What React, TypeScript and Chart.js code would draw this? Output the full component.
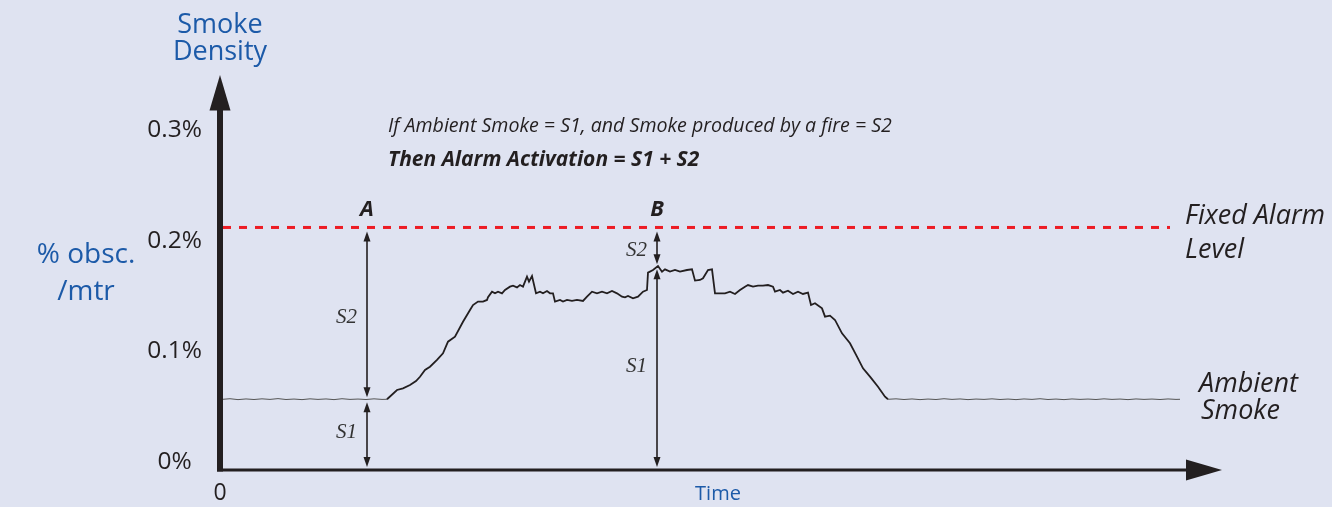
import React, { useEffect, useRef } from 'react';
import { Chart, registerables } from 'chart.js';

Chart.register(...registerables);

// ---------- data ----------
const timeValues = [
  3, 10, 18, 26, 34, 42, 50, 58, 66, 74, 82, 90, 98, 106, 114, 122, 130, 138, 146, 154, 162, 167,
  177, 183, 190, 196, 200, 205, 210, 217, 223, 228, 235, 243, 250, 253, 258, 263, 267, 268, 272, 275,
  278, 282, 285, 290, 293, 297, 300, 303, 307, 309, 312, 316, 320, 323, 327, 330, 333, 335, 340, 343,
  347, 352, 357, 363, 367, 372, 377, 382, 387, 392, 397, 402, 405, 408, 413, 418, 423, 427, 428, 433,
  438, 442, 445, 450, 455, 460, 467, 472, 475, 480, 483, 488, 492, 495, 500, 505, 510, 515, 520, 525,
  528, 533, 538, 543, 548, 553, 555, 560, 563, 568, 573, 578, 583, 588, 591, 595, 602, 605, 610, 615,
  622, 630, 637, 643, 650, 658, 665, 668,
  676, 684, 692, 700, 708, 716, 724, 732, 740, 748, 756, 764, 772, 780, 788, 796, 804, 812, 820, 828,
  836, 844, 852, 860, 868, 876, 884, 892, 900, 908, 916, 924, 932, 940, 948, 956, 960,
];
const densityValues = [
  0.0565, 0.057, 0.0562, 0.0568, 0.0563, 0.0569, 0.0564, 0.0571, 0.0563, 0.0567, 0.0562, 0.0569, 0.0564,
  0.0568, 0.0562, 0.057, 0.0564, 0.0567, 0.0563, 0.0569, 0.0564, 0.0565,
  0.0649, 0.0664, 0.0694, 0.073, 0.0769, 0.083, 0.086, 0.0921, 0.0981, 0.1086, 0.1131, 0.1267, 0.1373,
  0.1418, 0.1449, 0.1449, 0.1464, 0.1488, 0.1539, 0.1524,
  0.1539, 0.1524, 0.1554, 0.1584, 0.1593, 0.1578, 0.1599, 0.1584, 0.1675, 0.163, 0.1681, 0.1524, 0.1539,
  0.1524, 0.1545, 0.1524, 0.1524, 0.1449, 0.1464, 0.1449,
  0.1464, 0.1455, 0.1464, 0.1455, 0.1494, 0.1539, 0.1524, 0.1539, 0.1524, 0.1545, 0.1524, 0.1494, 0.1488,
  0.15, 0.1479, 0.1494, 0.1539, 0.1554, 0.1711, 0.1735,
  0.1771, 0.172, 0.1741, 0.172, 0.1735, 0.172, 0.1735, 0.1741, 0.1639, 0.1645, 0.166, 0.1735, 0.1741,
  0.1524, 0.1524, 0.1524, 0.1539, 0.1518, 0.1554, 0.1584,
  0.1599, 0.1584, 0.1593, 0.1593, 0.1599, 0.1584, 0.1539, 0.1554, 0.153, 0.1548, 0.1518, 0.1539, 0.1518,
  0.153, 0.1418, 0.1434, 0.1388, 0.1313, 0.1322, 0.1283,
  0.1162, 0.1072, 0.0951, 0.0845, 0.077, 0.0679, 0.0588, 0.0565,
  0.0569, 0.0563, 0.0568, 0.0562, 0.0567, 0.0563, 0.057, 0.0564, 0.0568, 0.0562, 0.0567, 0.0564, 0.0569,
  0.0563, 0.0567, 0.0562, 0.0568, 0.0564, 0.057, 0.0563,
  0.0567, 0.0562, 0.0568, 0.0564, 0.0567, 0.0563, 0.0569, 0.0564, 0.0567, 0.0562, 0.0568, 0.0564, 0.0567,
  0.0563, 0.0568, 0.0564, 0.0565,
];
const alarmTimes = [3, 950];
const alarmValues = [0.212, 0.212];
const ambientLevel = 0.0565;
const alarmLevel = 0.212;

const yTickValues = [0, 0.1, 0.2, 0.3];
const yTickLabels = ['0%', '0.1%', '0.2%', '0.3%'];
const xTickValues = [0];
const xTickLabels = ['0'];

const markerNames = ['A', 'B'];
const markerTimes = [147, 437];
const markerLevels = [ambientLevel, 0.177];

// ---------- styles ----------
const BG = '#dfe3f1';
const INK = '#231f20';
const BLUE = '#1c5aa8';
const RED = '#ed1c24';
const SANS = '"Open Sans", "Noto Sans", sans-serif';
const SERIF = '"Liberation Serif", "DejaVu Serif", serif';

function doubleArrow(ctx: CanvasRenderingContext2D, x: number, yTop: number, yBot: number) {
  const head = 10;
  const half = 3.5;
  ctx.strokeStyle = INK;
  ctx.fillStyle = INK;
  ctx.lineWidth = 1.6;
  ctx.beginPath();
  ctx.moveTo(x, yTop + head - 1);
  ctx.lineTo(x, yBot - head + 1);
  ctx.stroke();
  ctx.beginPath();
  ctx.moveTo(x, yTop);
  ctx.lineTo(x - half, yTop + head);
  ctx.lineTo(x + half, yTop + head);
  ctx.closePath();
  ctx.fill();
  ctx.beginPath();
  ctx.moveTo(x, yBot);
  ctx.lineTo(x - half, yBot - head);
  ctx.lineTo(x + half, yBot - head);
  ctx.closePath();
  ctx.fill();
}

const annotatePlugin = {
  id: 'annotate',
  beforeDraw(chart: any) {
    const { ctx, width, height } = chart;
    ctx.save();
    ctx.fillStyle = BG;
    ctx.fillRect(0, 0, width, height);
    ctx.restore();
  },
  afterDatasetsDraw(chart: any) {
    const { ctx, chartArea, scales } = chart;
    const xs = scales.x;
    const ys = scales.y;
    const ox = xs.getPixelForValue(0);
    const oy = chartArea.bottom;
    ctx.save();

    // axes
    ctx.fillStyle = INK;
    ctx.fillRect(ox - 3, chartArea.top, 6, oy - chartArea.top + 1.5);
    ctx.fillRect(ox - 3, oy - 1.5, chartArea.right - ox, 3);
    ctx.beginPath();
    ctx.moveTo(ox - 10.5, chartArea.top + 0.5);
    ctx.lineTo(ox, chartArea.top - 35);
    ctx.lineTo(ox + 10.5, chartArea.top + 0.5);
    ctx.closePath();
    ctx.fill();
    const xb = chartArea.right - 30;
    ctx.beginPath();
    ctx.moveTo(xb, oy - 10.5);
    ctx.lineTo(chartArea.right + 6, oy);
    ctx.lineTo(xb, oy + 10.5);
    ctx.closePath();
    ctx.fill();

    // measurement arrows
    const alarmPx = ys.getPixelForValue(alarmLevel);
    const zeroPx = oy;
    markerNames.forEach((name, i) => {
      const mx = xs.getPixelForValue(markerTimes[i]);
      const lv = ys.getPixelForValue(markerLevels[i]);
      doubleArrow(ctx, mx, alarmPx + 4, lv - 2);
      doubleArrow(ctx, mx, lv + 3, zeroPx - 3);
      ctx.fillStyle = INK;
      ctx.font = `italic bold 22px ${SANS}`;
      ctx.textAlign = 'center';
      ctx.textBaseline = 'middle';
      ctx.fillText(name, mx, alarmPx - 18);
      ctx.font = `italic 21px ${SERIF}`;
      ctx.fillStyle = '#333';
      ctx.textAlign = 'right';
      ctx.fillText('S2', mx - 10, (alarmPx + lv) / 2 + 4);
      ctx.fillText('S1', mx - 10, (lv + zeroPx) / 2 - 2);
    });

    // texts
    ctx.textBaseline = 'middle';
    ctx.fillStyle = BLUE;
    ctx.textAlign = 'center';
    ctx.font = `27px ${SANS}`;
    ctx.fillText('Smoke', ox, 25);
    ctx.fillText('Density', ox, 52);
    ctx.font = `28px ${SANS}`;
    ctx.fillText('% obsc.', 86, 255);
    ctx.fillText('/mtr', 86, 292);

    ctx.fillStyle = INK;
    ctx.textAlign = 'left';
    ctx.font = `italic 19.6px ${SANS}`;
    ctx.fillText('If Ambient Smoke = S1, and Smoke produced by a fire = S2', 388, 126);
    ctx.font = `italic bold 21px ${SANS}`;
    ctx.fillText('Then Alarm Activation = S1 + S2', 388, 160);

    ctx.font = `italic 27px ${SANS}`;
    ctx.fillText('Fixed Alarm', 1185, 216);
    ctx.fillText('Level', 1185, 250);
    ctx.fillText('Ambient', 1199, 384);
    ctx.fillText('Smoke', 1201, 411);
    ctx.restore();
  },
};

export default function App() {
  const ref = useRef<HTMLCanvasElement | null>(null);
  useEffect(() => {
    if (!ref.current) return;
    const curve = timeValues.map((t, i) => ({ x: t, y: densityValues[i] }));
    const alarm = alarmTimes.map((t, i) => ({ x: t, y: alarmValues[i] }));
    const chart = new Chart(ref.current, {
      type: 'line',
      data: {
        datasets: [
          {
            data: alarm,
            borderColor: RED,
            borderWidth: 3,
            borderDash: [8, 8],
            pointRadius: 0,
            fill: false,
          },
          {
            data: curve,
            borderColor: INK,
            borderWidth: 1.8,
            pointRadius: 0,
            tension: 0,
            fill: false,
            segment: {
              borderWidth: (c: any) => (c.p0.parsed.y < 0.058 && c.p1.parsed.y < 0.058 ? 1 : 1.8),
              borderColor: (c: any) => (c.p0.parsed.y < 0.058 && c.p1.parsed.y < 0.058 ? '#555' : INK),
            },
          },
        ],
      },
      options: {
        animation: false,
        responsive: false,
        events: [],
        layout: { padding: { top: 110, right: 116, bottom: 0, left: 0 } },
        plugins: { legend: { display: false }, tooltip: { enabled: false } },
        scales: {
          x: {
            type: 'linear',
            min: 0,
            max: 996,
            grid: { display: false, drawTicks: false, tickLength: 0 },
            border: { display: false },
            afterFit: (s: any) => {
              s.height = 37;
            },
            afterBuildTicks: (s: any) => {
              s.ticks = xTickValues.map((v) => ({ value: v }));
            },
            ticks: {
              padding: 10,
              color: INK,
              font: { family: SANS, size: 23 },
              maxRotation: 0,
              autoSkip: false,
              callback: (v: any) => {
                const i = xTickValues.indexOf(Number(v));
                return i >= 0 ? xTickLabels[i] : '';
              },
            },
            title: {
              display: true,
              text: 'Time',
              color: BLUE,
              font: { family: SANS, size: 20 },
              padding: { top: 0, bottom: 1 },
            },
          },
          y: {
            type: 'linear',
            min: -0.0075,
            max: 0.3183,
            grid: { display: false, drawTicks: false, tickLength: 0 },
            border: { display: false },
            afterFit: (s: any) => {
              s.width = 220;
            },
            afterBuildTicks: (s: any) => {
              s.ticks = yTickValues.map((v) => ({ value: v }));
            },
            ticks: {
              padding: 18,
              crossAlign: 'center',
              color: INK,
              font: { family: SANS, size: 24.5 },
              autoSkip: false,
              callback: (v: any) => {
                const i = yTickValues.findIndex((t) => Math.abs(t - Number(v)) < 1e-9);
                return i >= 0 ? yTickLabels[i] : '';
              },
            },
          },
        },
      },
      plugins: [annotatePlugin],
    } as any);
    return () => chart.destroy();
  }, []);

  return (
    <div style={{ position: 'fixed', left: 0, top: 0, width: 1332, height: 507, background: BG }}>
      <canvas ref={ref} width={1332} height={507} style={{ display: 'block', width: 1332, height: 507 }} />
    </div>
  );
}
